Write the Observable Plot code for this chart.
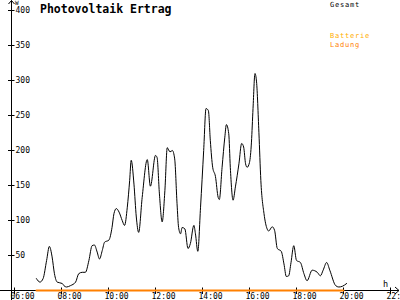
<!DOCTYPE html>
<html><head><meta charset="utf-8">
<script src="https://cdn.jsdelivr.net/npm/d3@7"></script>
<script src="https://cdn.jsdelivr.net/npm/@observablehq/plot@0.6"></script>
<style>html,body{margin:0;padding:0;background:#fff;overflow:hidden}</style>
</head><body><div id="chart"></div>
<script>
const title = "Photovoltaik Ertrag";
const seriesNames = ["Gesamt", "Batterie", "Ladung"];
const seriesColors = ["#000000", "#ffad00", "#ff8000"];
const xUnit = "h";
const yUnit = "W";

const times = [
  "06:56","07:05","07:13","07:22","07:29","07:36","07:42","07:49","08:02","08:06",
  "08:13","08:23","08:36","08:44","08:53","09:01","09:10","09:18","09:24","09:31",
  "09:37","09:44","09:50","10:01","10:09","10:14","10:20","10:27","10:35","10:41",
  "10:48","10:54","10:58","11:05","11:11","11:17","11:26","11:39","11:47","12:00",
  "12:04","12:10","12:17","12:24","12:30","12:37","12:43","12:49","12:55","12:59",
  "13:04","13:08","13:15","13:23","13:29","13:38","13:42","13:48","13:55","14:03",
  "14:09","14:15","14:20","14:26","14:33","14:40","14:43","14:50","14:57","15:01",
  "15:07","15:11","15:18","15:24","15:33","15:40","15:45","15:50","15:54","16:00",
  "16:05","16:09","16:14","16:18","16:24","16:29","16:37","16:45","16:49","16:58",
  "17:04","17:11","17:21","17:28","17:34","17:40","17:46","17:53","18:00","18:10",
  "18:19","18:27","18:40","18:53","19:01","19:08","19:17","19:25","19:40","19:48",
  "19:57","20:08"
];
const gesamt = [
  17, 12, 17, 43, 63, 48, 24, 12, 10, 7,
  5, 7, 12, 24, 26, 26, 43, 64, 65, 55,
  45, 57, 69, 72, 90, 110, 117, 112, 100, 93,
  119, 157, 186, 152, 105, 83, 133, 187, 149, 193,
  190, 138, 98, 143, 204, 198, 200, 188, 124, 90,
  81, 90, 88, 60, 67, 93, 81, 56, 119, 200,
  260, 257, 214, 176, 163, 133, 130, 176, 219, 237,
  224, 176, 129, 148, 181, 210, 205, 181, 176, 183,
  212, 260, 310, 298, 226, 157, 110, 88, 85, 91,
  86, 60, 56, 38, 20, 21, 40, 64, 43, 40,
  24, 14, 29, 26, 21, 29, 40, 29, 7, 5,
  6, 10
];
const ladungTimes = ["06:56", "20:00"];
const ladungValues = [0, 0];

const xTickLabels = ["06:00","08:00","10:00","12:00","14:00","16:00","18:00","20:00","22:00"];
const yTickValues = [50, 100, 150, 200, 250, 300, 350, 400];

const toH = s => { const [h, m] = s.split(":").map(Number); return h + m / 60; };
const data = times.map((t, i) => ({x: toH(t), y: gesamt[i]}));
const ladung = ladungTimes.map((t, i) => ({x: toH(t), y: ladungValues[i]}));
const xTicks = xTickLabels.map(toH);

const FONT = "'DejaVu Sans Mono', monospace";

const chart = Plot.plot({
  width: 400, height: 300,
  marginLeft: 14, marginRight: 10, marginTop: 10, marginBottom: 10,
  x: {domain: [6, 22], axis: null},
  y: {domain: [0, 400], axis: null},
  style: {fontFamily: FONT, fontSize: "8px", background: "#fff", overflow: "visible", color: "#000"},
  marks: [
    Plot.line(data, {x: "x", y: "y", stroke: seriesColors[0], strokeWidth: 1, curve: "monotone-x"}),
    Plot.line(ladung, {x: "x", y: "y", stroke: seriesColors[2], strokeWidth: 2}),
    Plot.text(xTickLabels, {x: (d, i) => xTicks[i], y: 0, text: d => d, textAnchor: "start", dx: -4, dy: 6, fill: "#000"}),
    Plot.text(yTickValues, {x: 6, y: d => d, text: d => String(d), textAnchor: "start", dx: 1, fill: "#000"})
  ]
});
document.getElementById("chart").appendChild(chart);

const sx = chart.scale("x"), sy = chart.scale("y");
const svg = d3.select(chart);
const g = svg.insert("g", ":first-child").attr("stroke", "#000").attr("fill", "none").attr("stroke-width", 1);
const yAxX = Math.round(sx.apply(6)) - 3 + 0.5;
const xAxY = Math.round(sy.apply(0)) + 0.5;
// y axis
g.append("line").attr("x1", yAxX).attr("x2", yAxX).attr("y1", 0.5).attr("y2", 300);
g.append("path").attr("d", `M${yAxX - 3},4 L${yAxX},0.5 L${yAxX + 3},4`);
// x axis
g.append("line").attr("x1", 0).attr("x2", 399).attr("y1", xAxY).attr("y2", xAxY);
g.append("path").attr("d", `M395,${xAxY - 3.5} L399,${xAxY} L395,${xAxY + 3.5}`);
// x ticks
xTicks.forEach(t => {
  const px = Math.round(sx.apply(t)) + 0.5;
  g.append("line").attr("x1", px).attr("x2", px).attr("y1", xAxY - 3).attr("y2", xAxY + 3.5);
});
// y ticks
yTickValues.forEach(v => {
  const py = Math.round(sy.apply(v)) + 0.5;
  g.append("line").attr("x1", yAxX - 3.5).attr("x2", yAxX + 3).attr("y1", py).attr("y2", py);
});

const t = svg.append("g").attr("font-family", FONT).attr("text-anchor", "start");
t.append("text").attr("x", 40).attr("y", 12.5).attr("font-size", 11.5).attr("font-weight", "bold").attr("fill", "#000").text(title);
t.append("text").attr("x", 15).attr("y", 5).attr("font-size", 6).attr("fill", "#000").text(yUnit);
t.append("text").attr("x", 383).attr("y", 287).attr("font-size", 8.5).attr("fill", "#000").text(xUnit);
const legY = [7, 38, 46.5];
seriesNames.forEach((n, i) => {
  t.append("text").attr("x", 330).attr("y", legY[i]).attr("font-size", 7).attr("letter-spacing", 0.8)
    .attr("fill", seriesColors[i]).text(n);
});
</script>
</body></html>
